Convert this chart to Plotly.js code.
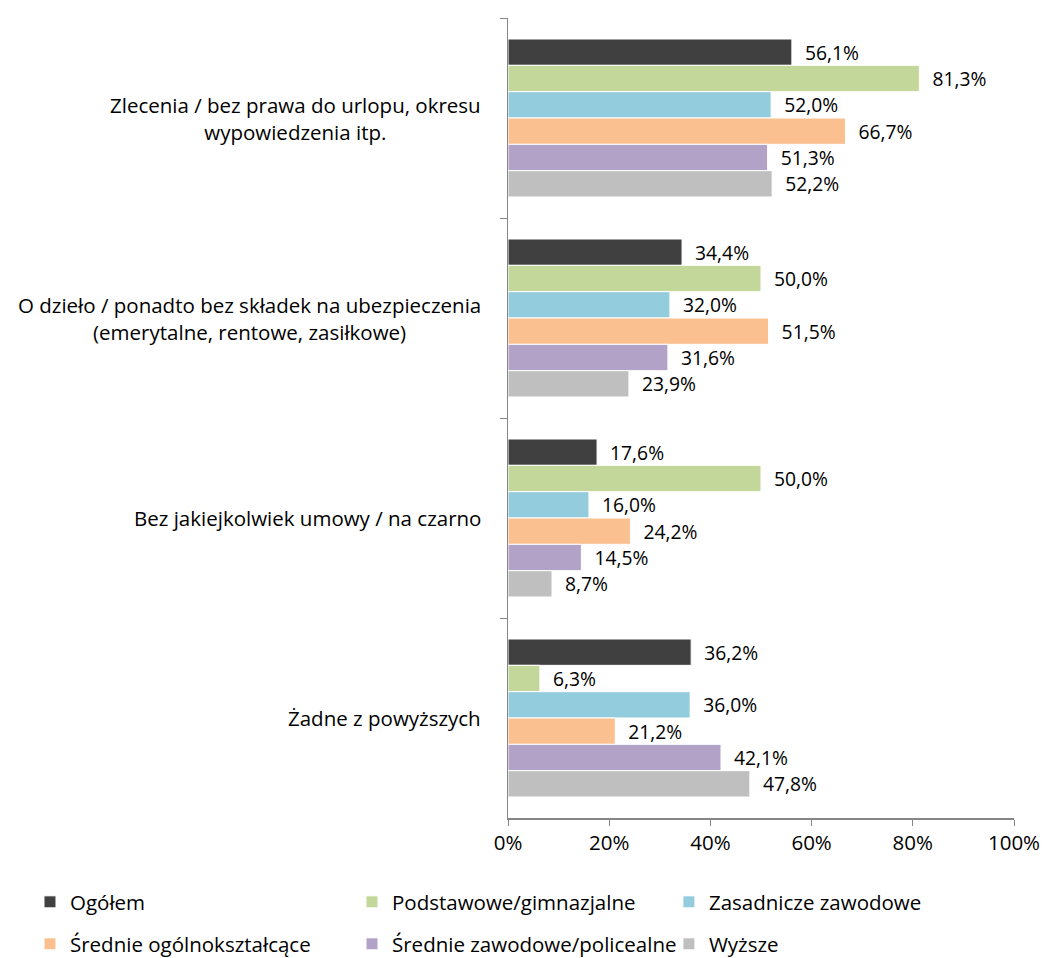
<!DOCTYPE html>
<html>
<head>
<meta charset="utf-8">
<script src="https://cdn.plot.ly/plotly-3.0.1.min.js"></script>
<style>html,body{margin:0;padding:0;background:#fff;}#chart{width:1045px;height:958px;}</style>
</head>
<body>
<div id="chart"></div>
<script>
const categories = [
  "Zlecenia / bez prawa do urlopu, okresu<br>wypowiedzenia itp.",
  "O dzieło / ponadto bez składek na ubezpieczenia<br>(emerytalne, rentowe, zasiłkowe)",
  "Bez jakiejkolwiek umowy / na czarno",
  "Żadne z powyższych"
];
const seriesNames = ["Ogółem", "Podstawowe/gimnazjalne", "Zasadnicze zawodowe", "Średnie ogólnokształcące", "Średnie zawodowe/policealne", "Wyższe"];
const ogolem = [56.1, 34.4, 17.6, 36.2];
const podstawowe = [81.3, 50.0, 50.0, 6.3];
const zasadnicze = [52.0, 32.0, 16.0, 36.0];
const srednieOgolne = [66.7, 51.5, 24.2, 21.2];
const srednieZawodowe = [51.3, 31.6, 14.5, 42.1];
const wyzsze = [52.2, 23.9, 8.7, 47.8];
const xTickVals = [0, 20, 40, 60, 80, 100];
const xTickText = ["0%", "20%", "40%", "60%", "80%", "100%"];

const seriesValues = [ogolem, podstawowe, zasadnicze, srednieOgolne, srednieZawodowe, wyzsze];
const colors = ["#404040", "#C4D79B", "#93CDDD", "#FAC090", "#B3A2C7", "#BFBFBF"];
const font = "'Open Sans', sans-serif";
const fs = 20.5;

const legendIds = ["legend", "legend2", "legend3", "legend4", "legend5", "legend6"];
const legendX = [-0.9447, -0.3083, 0.318];
const legendY = [-0.08, -0.1325];

const traces = seriesValues.map((vals, i) => ({
  type: "bar",
  orientation: "h",
  name: seriesNames[i],
  y: categories,
  x: vals,
  marker: {color: colors[i], line: {color: "#ffffff", width: 1}},
  texttemplate: "  %{x:.1f}%",
  textposition: "outside",
  textfont: {family: font, size: fs, color: "#000"},
  cliponaxis: false,
  legend: legendIds[i],
  hoverinfo: "none"
}));

const annotations = categories.map(c => ({
  xref: "paper", yref: "y",
  x: 0, y: c,
  xanchor: "right", yanchor: "middle",
  xshift: -25,
  align: "center",
  text: c,
  showarrow: false,
  font: {family: font, size: fs, color: "#000"}
}));

const layout = {
  width: 1045, height: 958,
  margin: {l: 508, r: 31, t: 18, b: 140, autoexpand: false},
  paper_bgcolor: "#fff", plot_bgcolor: "#fff",
  separators: ",.",
  barmode: "group",
  bargap: 0.21,
  bargroupgap: 0,
  font: {family: font, size: fs, color: "#000"},
  showlegend: true,
  annotations: annotations,
  xaxis: {
    range: [0, 100],
    tickmode: "array",
    tickvals: xTickVals,
    ticktext: xTickText,
    showgrid: false, zeroline: false,
    showline: true, linecolor: "#868686", linewidth: 1.5,
    ticks: "outside", ticklen: 6, tickcolor: "#868686",
    tickfont: {family: font, size: fs, color: "#000"},
    fixedrange: true
  },
  yaxis: {
    type: "category",
    autorange: "reversed",
    showgrid: false, zeroline: false,
    showline: true, linecolor: "#868686", linewidth: 1.5,
    ticks: "outside", ticklen: 7, tickcolor: "#868686",
    tickson: "boundaries",
    showticklabels: false,
    fixedrange: true
  }
};

legendIds.forEach((id, i) => {
  layout[id] = {
    orientation: "h",
    xref: "paper", yref: "paper",
    xanchor: "left", yanchor: "top",
    x: legendX[i % 3],
    y: legendY[Math.floor(i / 3)],
    font: {family: font, size: fs, color: "#000"},
    itemwidth: 30,
    bgcolor: "rgba(0,0,0,0)"
  };
});

Plotly.newPlot("chart", traces, layout, {displayModeBar: false, staticPlot: true});
</script>
</body>
</html>
